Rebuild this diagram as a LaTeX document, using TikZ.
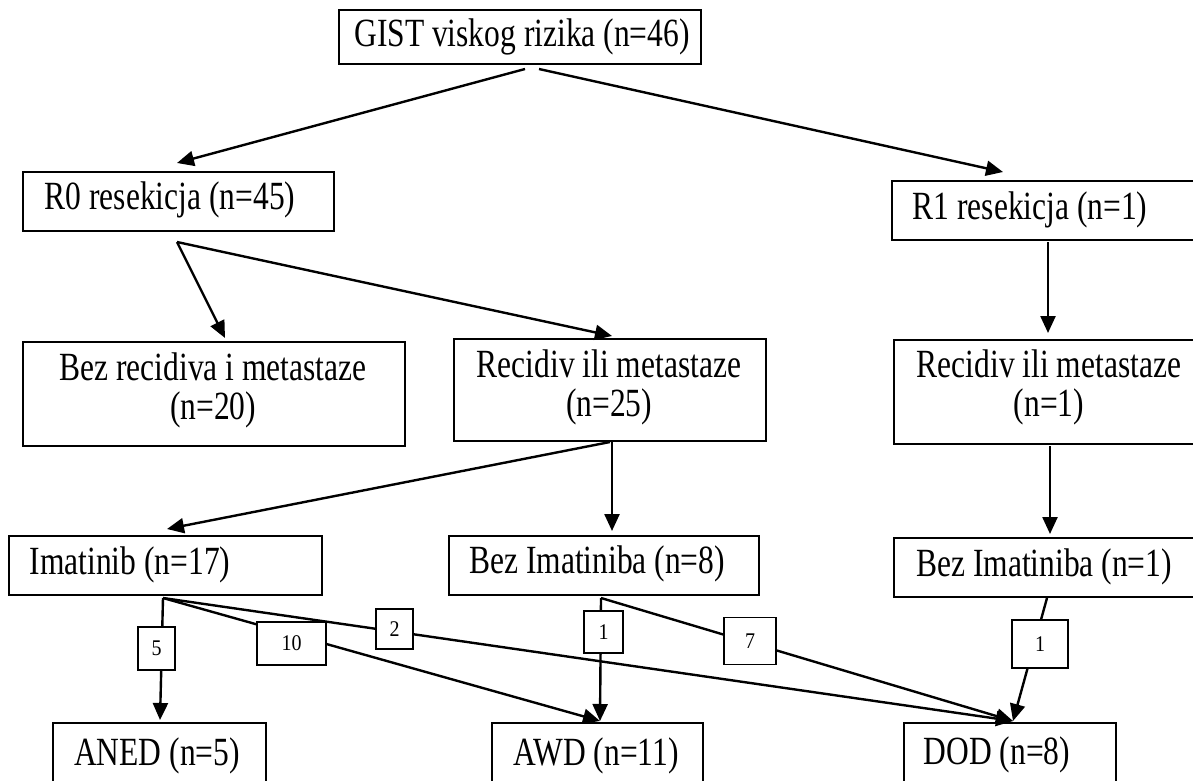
\documentclass[tikz,border=0pt]{standalone}
\usepackage{fontspec}
\setmainfont{Liberation Serif}
\usetikzlibrary{arrows.meta}
\newcommand{\tall}[1]{\scalebox{1}[1.27]{#1}}
\newcommand{\talltwo}[2]{\scalebox{1}[1.27]{\begin{tabular}{@{}c@{}}#1\\[-1pt]#2\end{tabular}}}
\begin{document}
\begin{tikzpicture}[x=1pt,y=-1pt,
  box/.style={draw, line width=1.8pt, inner sep=0pt, anchor=north west},
  txt/.style={inner sep=0pt, font=\fontsize{31.5}{31}\selectfont},
  lab/.style={draw, fill=white, line width=1.8pt, inner sep=0pt, font=\fontsize{20}{24}\selectfont},
  arr/.style={line width=2.4pt, -{Triangle[length=17pt,width=15pt]}},
  ln/.style={line width=2.4pt}]
\useasboundingbox (0,0) rectangle (1193,781);
\clip (0,0) rectangle (1193,781);
% boxes
\node[box, minimum width=362pt, minimum height=54pt] (top) at (338,9) {};
\node[box, minimum width=311pt, minimum height=59pt] (r0) at (22,171) {};
\node[box, minimum width=330pt, minimum height=59pt] (r1) at (891,180) {};
\node[box, minimum width=382pt, minimum height=104pt] (bezrec) at (22,341) {};
\node[box, minimum width=312pt, minimum height=102pt] (recm) at (453,338) {};
\node[box, minimum width=330pt, minimum height=104pt] (recr) at (893,339) {};
\node[box, minimum width=313pt, minimum height=59pt] (imat) at (8,535) {};
\node[box, minimum width=310pt, minimum height=59pt] (bezm) at (448,535) {};
\node[box, minimum width=330pt, minimum height=59pt] (bezr) at (893,537) {};
\node[box, minimum width=213pt, minimum height=100pt] (aned) at (52,722) {};
\node[box, minimum width=211pt, minimum height=100pt] (awd) at (491,722) {};
\node[box, minimum width=212pt, minimum height=100pt] (dod) at (903,722) {};
% texts
\node[txt] (topt) at (522,37) {\tall{GIST viskog rizika (n=46)}};
\node[txt] (r0t) at (170,200) {\tall{R0 resekicja (n=45)}};
\node[txt] (r1t) at (1030,210) {\tall{R1 resekicja (n=1)}};
\node[txt] (bezrect) at (213,392) {\talltwo{Bez recidiva i metastaze}{(n=20)}};
\node[txt] (recmt) at (609,389) {\talltwo{Recidiv ili metastaze}{(n=25)}};
\node[txt] (recrt) at (1049,389) {\talltwo{Recidiv ili metastaze}{(n=1)}};
\node[txt] (imatt) at (130,565) {\tall{Imatinib (n=17)}};
\node[txt] (bezmt) at (597,564) {\tall{Bez Imatiniba (n=8)}};
\node[txt] (bezrt) at (1044,567) {\tall{Bez Imatiniba (n=1)}};
\node[txt] (anedt) at (157,756) {\tall{ANED (n=5)}};
\node[txt] (awdt) at (596,756) {\tall{AWD (n=11)}};
\node[txt] (dodt) at (997,755) {\tall{DOD (n=8)}};
% connector ends
\coordinate (topL) at (525,69);
\coordinate (topR) at (539,69);
\coordinate (r0in) at (177,163);
\coordinate (r1in) at (1003,172);
\coordinate (r0out) at (177,242);
\coordinate (bezrecin) at (225,338);
\coordinate (recmin) at (612,336);
\coordinate (r1out) at (1048,242);
\coordinate (recrin) at (1048,333);
\coordinate (recmoutL) at (610,442);
\coordinate (recmoutD) at (612,442);
\coordinate (imatin) at (167,529);
\coordinate (bezmin) at (612,531);
\coordinate (recrout) at (1050,446);
\coordinate (bezrin) at (1050,534);
\coordinate (imatout) at (163,598);
\coordinate (bezmout) at (601,598);
\coordinate (bezrout) at (1047,598);
\coordinate (anedin) at (160,720);
\coordinate (awdin) at (600,721);
\coordinate (dodin) at (1013,721);
% connectors
\draw[arr] (topL) -- (r0in);
\draw[arr] (topR) -- (r1in);
\draw[arr] (r0out) -- (bezrecin);
\draw[arr] (r0out) -- (recmin);
\draw[arr] (r1out) -- (recrin);
\draw[arr] (recmoutL) -- (imatin);
\draw[arr] (recmoutD) -- (bezmin);
\draw[arr] (recrout) -- (bezrin);
\draw[arr] (imatout) -- (anedin);
\draw[arr] (imatout) -- (awdin);
\draw[arr] (imatout) -- (dodin);
\draw[arr] (bezmout) -- (awdin);
\draw[arr] (bezmout) -- (dodin);
\draw[arr] (bezrout) -- (dodin);
% count labels
\node[lab, minimum width=37pt, minimum height=43pt] (l5) at (156.5,648.5) {\scalebox{1}[1.12]{5}};
\node[lab, minimum width=69pt, minimum height=43pt] (l10) at (291.5,643.5) {\scalebox{1}[1.12]{10}};
\node[lab, minimum width=37pt, minimum height=40pt] (l2) at (394.5,629) {\scalebox{1}[1.12]{2}};
\node[lab, minimum width=39pt, minimum height=42pt] (l1m) at (603.5,632) {\scalebox{1}[1.12]{1}};
\node[lab, minimum width=52pt, minimum height=47pt] (l7) at (750,641) {\scalebox{1}[1.12]{7}};
\node[lab, minimum width=56pt, minimum height=48pt] (l1r) at (1040,644) {\scalebox{1}[1.12]{1}};
\end{tikzpicture}
\end{document}
